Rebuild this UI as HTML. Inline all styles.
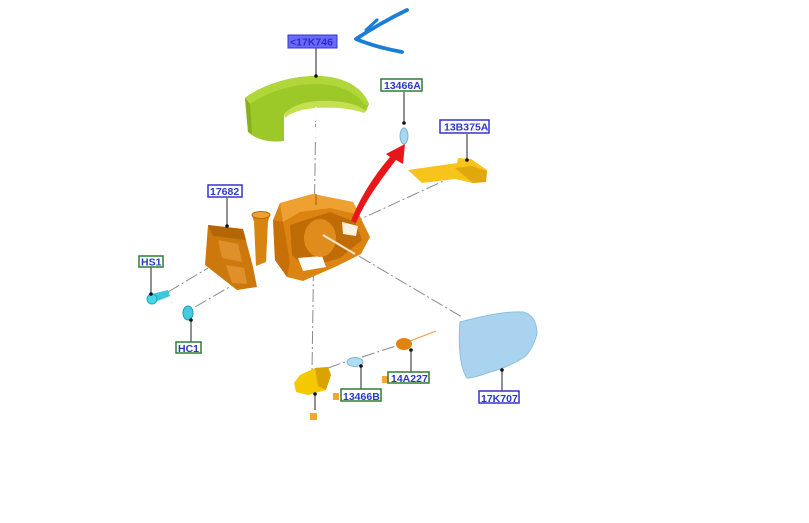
<!DOCTYPE html>
<html><head><meta charset="utf-8"><style>
html,body{margin:0;padding:0;background:#fff;}
svg{display:block;}
text{font-family:"Liberation Sans",sans-serif;font-weight:bold;font-size:10.5px;}
</style></head><body>
<svg width="809" height="523" viewBox="0 0 809 523" xmlns="http://www.w3.org/2000/svg">
<rect width="809" height="523" fill="#fff"/>
<!-- dash-dot lines -->
<g stroke="#8a8a8a" stroke-width="1" fill="none" stroke-dasharray="13 3 2 3">
<line x1="316" y1="100" x2="312" y2="372"/>
<line x1="350" y1="224" x2="452" y2="177"/>
<line x1="323" y1="235" x2="462" y2="317"/>
<line x1="168" y1="292" x2="208" y2="268"/>
<line x1="195" y1="307" x2="233" y2="285"/>
<line x1="328" y1="368" x2="348" y2="361"/>
<line x1="362" y1="357" x2="396" y2="346"/>
</g>
<line x1="410" y1="341" x2="436" y2="331" stroke="#e89a40" stroke-width="1"/>

<!-- mirror cap -->
<path d="M245,98 C262,85 290,76 316,76 C342,76 362,86 369,104 L366,111 C350,106 332,105 316,106 C300,107 290,109 284,114 L284,141 C270,143 255,139 248,132 Z" fill="#9cc828"/>
<path d="M245,98 C262,85 290,76 316,76 C342,76 362,86 369,104 L366,106 C356,92 338,84 316,84 C292,84 268,92 250,104 Z" fill="#b0d63a"/>
<path d="M284,114 C292,106 302,102 318,101 C340,100 356,103 366,111 L364,113 C350,108 332,107 316,108 C302,109 292,112 285,118 Z" fill="#c4e050"/>
<path d="M245,98 L250,104 L252,134 L248,132 Z" fill="#86b01c"/>
<line x1="316" y1="107" x2="315" y2="140" stroke="#fff" stroke-width="1.5" stroke-dasharray="12 3 2 3"/>

<!-- main housing -->
<path d="M273,220 L280,203 L313,194 L353,202 L370,237 L361,254 L337,266 L303,281 L287,277 L275,260 Z" fill="#dc8412"/>
<path d="M280,203 L313,194 L353,202 L360,215 L330,208 L300,212 L283,222 Z" fill="#eea030"/>
<path d="M273,220 L283,222 L290,262 L287,277 L275,260 Z" fill="#c87008"/>
<path d="M290,225 L330,212 L355,222 L362,240 L340,258 L305,268 L292,255 Z" fill="#c06c06"/>
<path d="M298,258 L322,256 L326,267 L303,271 Z" fill="#fff"/>
<path d="M342,222 L358,226 L356,236 L343,234 Z" fill="#fdf2e0"/>
<ellipse cx="320" cy="238" rx="16" ry="19" fill="#e08c1c"/>
<line x1="323" y1="235" x2="355" y2="254" stroke="#f5e6cc" stroke-width="2"/>
<line x1="316" y1="194" x2="316" y2="205" stroke="#9a6010" stroke-width="1"/>

<!-- neck / stalk -->
<path d="M252,215 L270,214 L268,222 L266,262 L256,266 L254,222 Z" fill="#d88410"/>
<ellipse cx="261" cy="215" rx="9" ry="3.5" fill="#f0a030" stroke="#b86a08" stroke-width="1"/>

<!-- base plate -->
<path d="M208,225 L243,229 L253,267 L257,287 L237,290 L205,265 Z" fill="#cc780c"/>
<path d="M208,225 L243,229 L246,240 L213,236 Z" fill="#b26606"/>
<path d="M218,240 L238,244 L242,262 L222,258 Z" fill="#e0902a"/>
<path d="M226,265 L244,268 L247,284 L232,283 Z" fill="#e0902a"/>

<!-- red arrow -->
<path d="M351,221 C361,195 377,172 390,157 L386,154 L405,144 L403,164 L396,160 C383,177 366,199 356,223 Z" fill="#e8161a"/>

<!-- blue hand-drawn arrow -->
<path d="M407,10 Q382,22 356,39 Q375,47 402,52" fill="none" stroke="#1a7ed6" stroke-width="3.8" stroke-linecap="round" stroke-linejoin="round"/>
<path d="M377,20 L366,30" fill="none" stroke="#1a7ed6" stroke-width="3" stroke-linecap="round"/>

<!-- bulb 13466A -->
<ellipse cx="404" cy="136" rx="4" ry="8" fill="#a8d8f0" stroke="#7ab0d0" stroke-width="1"/>

<!-- yellow turn signal -->
<path d="M408,170 L457,163 L458,158 L471,159 L487,170 L486,182 L473,183 L455,179 L422,183 Z" fill="#f6c41a"/>
<path d="M455,168 L472,166 L487,171 L486,182 L473,183 Z" fill="#e0a80c"/>

<!-- mirror glass -->
<path d="M460,322 C490,314 510,311 523,312 C532,314 537,322 537,334 C534,345 528,355 523,358 C510,366 498,370 490,372 C482,375 472,378 467,378 C460,368 458,345 460,322 Z" fill="#a9d3ee" stroke="#8cbfdf" stroke-width="1"/>

<!-- screw HS1 -->
<path d="M152,294 L168,290 L170,296 L155,302 Z" fill="#3cc8dc"/>
<circle cx="152" cy="299" r="5" fill="#48d6e6" stroke="#20a8c0" stroke-width="1"/>
<!-- washer HC1 -->
<ellipse cx="188" cy="313" rx="5" ry="7" fill="#44cde0" stroke="#1ea0b8" stroke-width="1"/>

<!-- small bulb 13466B -->
<ellipse cx="355" cy="362" rx="8" ry="4.5" fill="#b0dcf2" stroke="#80b8d8" stroke-width="1"/>
<!-- orange part 14A227 -->
<ellipse cx="404" cy="344" rx="8" ry="6" fill="#e08410"/>
<!-- yellow connector -->
<path d="M294,383 L300,375 L315,368 L328,367 L331,375 L326,390 L308,395 L296,392 Z" fill="#f6c800"/>
<path d="M315,368 L328,367 L331,375 L326,390 L318,386 Z" fill="#d9a400"/>

<!-- orange squares -->
<rect x="333" y="393" width="6" height="7" fill="#f2a830"/>
<rect x="382" y="376" width="6" height="7" fill="#f2a830"/>
<rect x="310" y="413" width="7" height="7" fill="#f2a830"/>

<!-- leader lines -->
<g stroke="#222" stroke-width="1">
<line x1="316" y1="48" x2="316" y2="76"/>
<line x1="404" y1="92" x2="404" y2="123"/>
<line x1="467" y1="134" x2="467" y2="160"/>
<line x1="227" y1="198" x2="227" y2="226"/>
<line x1="151" y1="267" x2="151" y2="294"/>
<line x1="191" y1="342" x2="191" y2="320"/>
<line x1="361" y1="389" x2="361" y2="366"/>
<line x1="411" y1="372" x2="411" y2="350"/>
<line x1="502" y1="391" x2="502" y2="370"/>
<line x1="315" y1="394" x2="315" y2="410"/>
</g>
<g fill="#111">
<circle cx="316" cy="76" r="1.8"/>
<circle cx="404" cy="123" r="1.8"/>
<circle cx="467" cy="160" r="1.8"/>
<circle cx="227" cy="226" r="1.8"/>
<circle cx="151" cy="294" r="1.8"/>
<circle cx="191" cy="320" r="1.8"/>
<circle cx="361" cy="366" r="1.8"/>
<circle cx="411" cy="350" r="1.8"/>
<circle cx="502" cy="370" r="1.8"/>
<circle cx="315" cy="394" r="1.8"/>
</g>

<!-- labels -->
<rect x="288" y="35" width="49" height="13" fill="#6a6af8" stroke="#3434c8" stroke-width="1"/>
<text x="290" y="45.5" fill="#2c2cc8">&lt;17K746</text>

<rect x="381" y="79" width="41" height="12" fill="#fff" stroke="#2e7d32" stroke-width="1.5"/>
<text x="384" y="89" fill="#2a3ac8">13466A</text>

<rect x="440" y="120" width="49" height="13" fill="#fff" stroke="#3434c8" stroke-width="1.5"/>
<text x="444" y="130.5" fill="#2a3ac8">13B375A</text>

<rect x="208" y="185" width="34" height="12" fill="#fff" stroke="#3434c8" stroke-width="1.5"/>
<text x="210" y="195" fill="#2a3ac8">17682</text>

<rect x="139" y="256" width="24" height="11" fill="#fff" stroke="#2e7d32" stroke-width="1.5"/>
<text x="141" y="265.5" fill="#2a3ac8">HS1</text>

<rect x="176" y="342" width="25" height="11" fill="#fff" stroke="#2e7d32" stroke-width="1.5"/>
<text x="178" y="352" fill="#2a3ac8">HC1</text>

<rect x="341" y="389" width="40" height="12" fill="#fff" stroke="#2e7d32" stroke-width="1.5"/>
<text x="343" y="400" fill="#2a3ac8">13466B</text>

<rect x="388" y="372" width="41" height="11" fill="#fff" stroke="#2e7d32" stroke-width="1.5"/>
<text x="391" y="382" fill="#2a3ac8">14A227</text>

<rect x="479" y="391" width="40" height="12" fill="#fff" stroke="#3434c8" stroke-width="1.5"/>
<text x="481" y="402" fill="#2a3ac8">17K707</text>
</svg>
</body></html>
